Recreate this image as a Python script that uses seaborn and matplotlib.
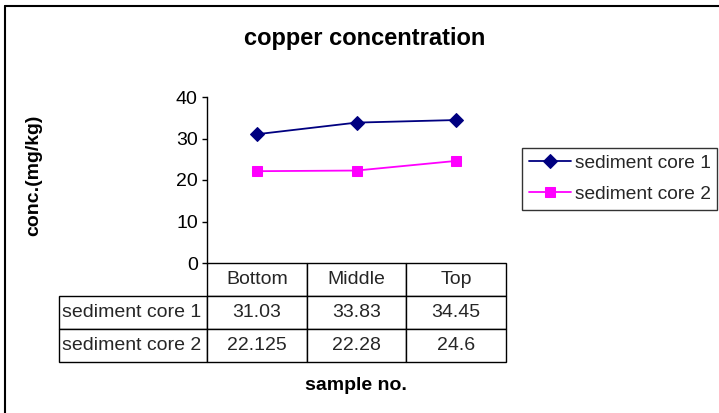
import matplotlib
matplotlib.use("Agg")
import matplotlib.pyplot as plt
from matplotlib.lines import Line2D
import seaborn as sns
import pandas as pd

# Sample positions along the core and measured copper concentrations (mg/kg)
samples = ["Bottom", "Middle", "Top"]
core1 = [31.03, 33.83, 34.45]
core2 = [22.125, 22.28, 24.6]
series_names = ["sediment core 1", "sediment core 2"]
table_text = [["31.03", "33.83", "34.45"], ["22.125", "22.28", "24.6"]]
y_ticks = [0, 10, 20, 30, 40]

sns.set_theme(style="white")
plt.rcParams["font.family"] = ["Liberation Sans", "DejaVu Sans"]

W, H = 719, 413
fig = plt.figure(figsize=(W / 100, H / 100), dpi=100)
fig.patch.set_facecolor("white")

# axes box in pixel coordinates: x 207..506, y 97..263
AX_L, AX_R, AX_T, AX_B = 207, 506, 97, 263
ax = fig.add_axes([AX_L / W, 1 - AX_B / H, (AX_R - AX_L) / W, (AX_B - AX_T) / H])

df1 = pd.DataFrame({"sample": samples, "conc": core1})
df2 = pd.DataFrame({"sample": samples, "conc": core2})
sns.lineplot(data=df1, x="sample", y="conc", ax=ax, color="#000080",
             marker="D", markersize=7, markeredgecolor="#000080",
             linewidth=1.3, label=series_names[0], sort=False, legend=False)
sns.lineplot(data=df2, x="sample", y="conc", ax=ax, color="#FF00FF",
             marker="s", markersize=7, markeredgecolor="#FF00FF",
             linewidth=1.3, label=series_names[1], sort=False, legend=False)

ax.set_xlim(-0.5, 2.5)
ax.set_ylim(0, 40)
ax.set_yticks(y_ticks)
ax.set_xticks([])
ax.set_xlabel("")
ax.tick_params(axis="y", which="both", left=True, length=3.6, width=1,
               color="black", pad=3, labelsize=14, labelcolor="black")
for side in ["top", "right", "bottom"]:
    ax.spines[side].set_visible(False)
ax.spines["left"].set_color("black")
ax.spines["left"].set_linewidth(1)

ax.set_ylabel("conc.(mg/kg)", fontsize=14, fontweight="bold", color="black")
ax.yaxis.set_label_coords((42 - AX_L) / (AX_R - AX_L), (AX_B - 175) / (AX_B - AX_T))

# data table under the plot: a label column plus one column per sample
TB_L, TB_B = 59, 362
span_w = AX_R - TB_L
label_w = AX_L - TB_L
col_w = (AX_R - AX_L) / 3
cell_rows = [[name] + vals for name, vals in zip(series_names, table_text)]
tbl = ax.table(cellText=cell_rows, colLabels=[""] + samples, cellLoc="center",
               colWidths=[label_w / span_w] + [col_w / span_w] * 3,
               bbox=[(TB_L - AX_L) / (AX_R - AX_L), (AX_B - TB_B) / (AX_B - AX_T),
                     span_w / (AX_R - AX_L), (TB_B - AX_B) / (AX_B - AX_T)])
tbl.auto_set_font_size(False)
tbl.set_fontsize(14)
for (r, c), cell in tbl.get_celld().items():
    cell.set_edgecolor("black")
    cell.set_linewidth(1)
    cell.set_facecolor("white")
    if c == 0:
        cell.PAD = 0.02
        cell.set_text_props(ha="left")
tbl[0, 0].set_visible(False)

fig.text(365 / W, 1 - 38 / H, "copper concentration", ha="center", va="center",
         fontsize=17, fontweight="bold", color="black")
fig.text(356 / W, 1 - 386 / H, "sample no.", ha="center", va="center",
         fontsize=14, fontweight="bold", color="black")

handles, labels = ax.get_legend_handles_labels()
leg = fig.legend(handles, labels, loc="upper left",
                 bbox_to_anchor=(522 / W, 1 - 148 / H), fontsize=13.8,
                 frameon=True, fancybox=False, shadow=False, handlelength=2.2,
                 handletextpad=0.2, borderpad=0.35, labelspacing=0.7,
                 borderaxespad=0)
leg.get_frame().set_edgecolor("black")
leg.get_frame().set_linewidth(1)

# outer chart border (top and left edges)
fig.add_artist(Line2D([5 / W, 1], [1 - 6 / H, 1 - 6 / H], color="black",
                      linewidth=1.5, transform=fig.transFigure))
fig.add_artist(Line2D([5 / W, 5 / W], [0, 1 - 6 / H], color="black",
                      linewidth=1.5, transform=fig.transFigure))

fig.savefig("out.png", dpi=100, facecolor="white")
